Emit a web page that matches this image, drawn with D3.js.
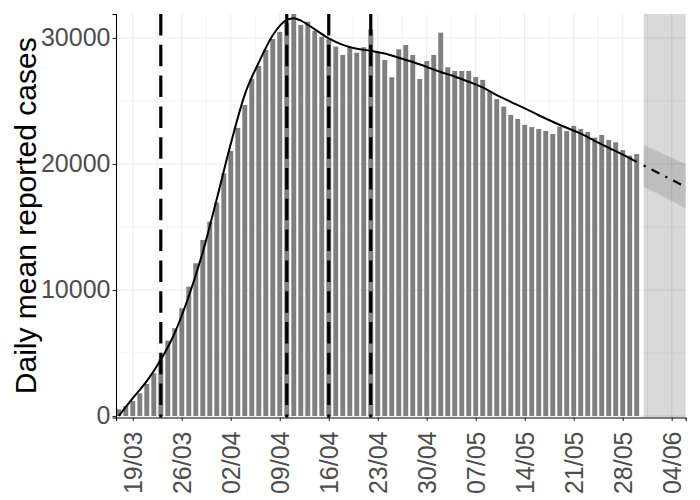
<!DOCTYPE html>
<html>
<head>
<meta charset="utf-8">
<script src="https://cdn.jsdelivr.net/npm/d3@7"></script>
<style>
  body { margin: 0; background: white; }
  svg { display: block; font-family: 'Liberation Sans', Arial, sans-serif; }
</style>
</head>
<body>
<svg id="chart" width="700" height="500"></svg>
<script>
// daily mean reported cases, one bar per day from 17/03
const firstDay = '17/03'
const dailyCases = [
  530, 790, 1190, 1800, 2540, 3390, 4500, 5980, 6960, 8550,
  10260, 12120, 13970, 15420, 16930, 19260, 21030, 22860, 24680, 26750,
  27780, 29050, 29920, 30480, 31200, 31900, 31030, 31290, 30560, 30100,
  29900, 29310, 28650, 29260, 28830, 29260, 30690, 28830, 28250, 26880,
  29100, 29440, 28650, 26750, 28170, 28650, 30420, 27670, 27380, 27380,
  27380, 26900, 26670, 25740, 25150, 24550, 23890, 23570, 23100, 22930,
  22780, 22620, 22380, 22960, 22620, 23020, 22780, 22540, 22090, 22300,
  21900, 21720, 21110, 20660, 20790
]

// fitted curve
const fitDates = ['17/03', '19/03', '21/03', '23/03', '25/03', '27/03', '29/03', '31/03',
  '02/04', '04/04', '06/04', '08/04', '10/04', '11/04', '12/04', '14/04', '16/04', '18/04',
  '20/04', '22/04', '24/04', '26/04', '28/04', '30/04', '02/05', '04/05', '06/05', '08/05',
  '10/05', '12/05', '14/05', '16/05', '18/05', '20/05', '22/05', '24/05', '26/05', '28/05', '30/05']
const fitValues = [0, 1420, 2770, 4460, 6600, 9500, 13000, 17220,
  21600, 25500, 28050, 30210, 31430, 31560, 31380, 30680, 29970, 29450,
  29140, 28990, 28760, 28430, 28085, 27700, 27295, 26940, 26520, 26070,
  25460, 24930, 24410, 23865, 23350, 22870, 22410, 21840, 21285, 20735, 20160]

// projection with its band
const projDates = ['31/05', '06/06']
const projValues = [19870, 18180]
const projLower = [18200, 16480]
const projUpper = [21510, 19990]

const eventDates = ['23/03', '10/04', '16/04', '22/04']
const tickLabels = ['19/03', '26/03', '02/04', '09/04', '16/04', '23/04',
  '30/04', '07/05', '14/05', '21/05', '28/05', '04/06']
const yTicks = [0, 10000, 20000, 30000]
const yMinor = [5000, 15000, 25000]

const parse = s => d3.utcParse('%d/%m/%Y')(s + '/2020')
const dayMs = 864e5

const pLeft = 116
const pRight = 685.7
const pTop = 14
const pBottom = 417.5

const x = d3.scaleUtc()
  .domain([new Date(+parse(firstDay) - 0.4 * dayMs), parse('06/06')])
  .range([pLeft, pRight])
const y = d3.scaleLinear().domain([-120, 31900]).range([pBottom, pTop])

const svg = d3.select('#chart')

// grid
const grid = svg.append('g')
const tickDates = tickLabels.map(parse)
const minorDates = tickDates.map(d => new Date(+d - 3.5 * dayMs))
  .concat([new Date(+tickDates[tickDates.length - 1] + 3.5 * dayMs)])
  .filter(d => x(d) > pLeft && x(d) < pRight)
grid.selectAll('.vmin').data(minorDates).join('line')
  .attr('x1', d => x(d)).attr('x2', d => x(d)).attr('y1', pTop).attr('y2', pBottom)
  .attr('stroke', '#EBEBEB').attr('stroke-width', 0.6)
grid.selectAll('.hmin').data(yMinor).join('line')
  .attr('x1', pLeft).attr('x2', pRight).attr('y1', d => y(d)).attr('y2', d => y(d))
  .attr('stroke', '#EBEBEB').attr('stroke-width', 0.6)
grid.selectAll('.vmaj').data(tickDates).join('line')
  .attr('x1', d => x(d)).attr('x2', d => x(d)).attr('y1', pTop).attr('y2', pBottom)
  .attr('stroke', '#EBEBEB').attr('stroke-width', 1.1)
grid.selectAll('.hmaj').data(yTicks).join('line')
  .attr('x1', pLeft).attr('x2', pRight).attr('y1', d => y(d)).attr('y2', d => y(d))
  .attr('stroke', '#EBEBEB').attr('stroke-width', 1.1)

// projection period shading
svg.append('rect')
  .attr('x', x(parse(projDates[0])))
  .attr('y', pTop)
  .attr('width', pRight - x(parse(projDates[0])))
  .attr('height', pBottom - pTop)
  .attr('fill', 'black')
  .attr('fill-opacity', 0.15)

// bars
const start = parse(firstDay)
const bars = dailyCases.map((v, i) => ({ date: new Date(+start + i * dayMs), value: v }))
const barW = 4.9
svg.append('g').selectAll('rect').data(bars).join('rect')
  .attr('x', d => x(d.date) - barW / 2)
  .attr('width', barW)
  .attr('y', d => y(d.value))
  .attr('height', d => y(0) - y(d.value))
  .attr('fill', '#7F7F7F')

// band
const band = projDates.map((d, i) => ({ date: parse(d), lo: projLower[i], hi: projUpper[i] }))
svg.append('path')
  .datum(band)
  .attr('d', d3.area().x(d => x(d.date)).y0(d => y(d.lo)).y1(d => y(d.hi)))
  .attr('fill', 'black')
  .attr('fill-opacity', 0.12)

// intervention dates
svg.append('g').selectAll('line').data(eventDates.map(parse)).join('line')
  .attr('x1', d => x(d)).attr('x2', d => x(d)).attr('y1', pTop).attr('y2', pBottom)
  .attr('stroke', 'black')
  .attr('stroke-width', 3.2)
  .attr('stroke-dasharray', '21.5 9.3')

// fitted line
const fit = fitDates.map((d, i) => ({ date: parse(d), value: fitValues[i] }))
svg.append('path')
  .datum(fit)
  .attr('d', d3.line().x(d => x(d.date)).y(d => y(d.value)).curve(d3.curveMonotoneX))
  .attr('fill', 'none')
  .attr('stroke', 'black')
  .attr('stroke-width', 2)

const proj = projDates.map((d, i) => ({ date: parse(d), value: projValues[i] }))
svg.append('path')
  .datum(proj)
  .attr('d', d3.line().x(d => x(d.date)).y(d => y(d.value)))
  .attr('fill', 'none')
  .attr('stroke', 'black')
  .attr('stroke-width', 2.2)
  .attr('stroke-dasharray', '2.2 6.6 8.8 6.6')

// axes
const xAxis = svg.append('g')
  .attr('transform', `translate(0,${pBottom})`)
  .call(d3.axisBottom(x).tickValues(tickDates).tickSizeOuter(0).tickSize(3.5)
    .tickFormat(d3.utcFormat('%d/%m')))
xAxis.select('.domain').attr('stroke', 'black').attr('stroke-width', 1.1)
xAxis.selectAll('.tick line').attr('stroke', '#333333').attr('stroke-width', 1.1)
xAxis.selectAll('.tick text')
  .attr('transform', 'rotate(-90)')
  .attr('x', -14)
  .attr('y', 0)
  .attr('dy', '0.35em')
  .attr('text-anchor', 'end')
  .attr('fill', '#4D4D4D')
  .style('font-size', '25px')
  .style('font-family', "'Liberation Sans', Arial, sans-serif")

const yAxis = svg.append('g')
  .attr('transform', `translate(${pLeft},0)`)
  .call(d3.axisLeft(y).tickValues(yTicks).tickSizeOuter(0).tickSize(3.5).tickFormat(d3.format('d')))
yAxis.select('.domain').attr('stroke', 'black').attr('stroke-width', 1.1)
yAxis.selectAll('.tick line').attr('stroke', '#333333').attr('stroke-width', 1.1)
yAxis.selectAll('.tick text')
  .attr('x', -5.5)
  .attr('fill', '#4D4D4D')
  .style('font-size', '25px')
  .style('font-family', "'Liberation Sans', Arial, sans-serif")

svg.append('text')
  .attr('transform', `translate(36,${(pTop + pBottom) / 2}) rotate(-90)`)
  .attr('text-anchor', 'middle')
  .attr('fill', 'black')
  .style('font-size', '30px')
  .text('Daily mean reported cases')
</script>
</body>
</html>
